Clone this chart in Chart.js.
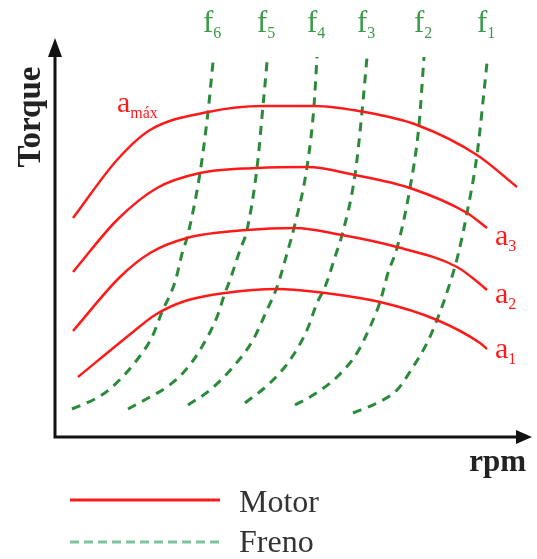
<!DOCTYPE html>
<html>
<head>
<meta charset="utf-8">
<script src="https://cdn.jsdelivr.net/npm/chart.js@4/dist/chart.umd.min.js"></script>
<style>
  html, body { margin: 0; padding: 0; background: #fff; }
  #wrap { width: 537px; height: 559px; }
</style>
</head>
<body>
<div id="wrap"><canvas id="c"></canvas></div>
<script>
// Courbes moteur (rpm, couple)
const motorLabels = ['amáx', 'a3', 'a2', 'a1'];
const aMaxX = [18, 62, 95, 153, 208, 259, 309, 362, 422, 462];
const aMaxY = [219, 277, 307, 325, 331, 331, 325, 312, 282, 250];
const a3X = [18, 62, 102, 145, 202, 252, 300, 355, 412, 432];
const a3Y = [165, 217, 249, 264, 269, 270, 262, 249, 224, 209];
const a2X = [18, 65, 95, 132, 192, 239, 287, 342, 402, 425, 432];
const a2Y = [106, 160, 184, 199, 207, 209, 202, 190, 170, 153, 147];
const a1X = [23, 78, 100, 130, 170, 222, 262, 325, 382, 425, 432];
const a1Y = [60, 105, 122, 136, 144, 148, 145, 135, 117, 94, 88];

// Courbes frein
const brakeLabels = ['f6', 'f5', 'f4', 'f3', 'f2', 'f1'];
const f6X = [17, 40, 55, 85, 97, 107, 120, 128, 132, 145, 153, 158];
const f6Y = [28, 38, 48, 81, 100, 125, 155, 187, 199, 264, 325, 375];
const f5X = [73, 95, 112, 128, 145, 162, 170, 175, 185, 192, 202, 208, 212];
const f5Y = [28, 40, 50, 64, 87, 120, 144, 157, 187, 207, 269, 331, 375];
const f4X = [133, 155, 178, 198, 212, 222, 233, 239, 252, 259, 262];
const f4Y = [32, 47, 70, 97, 127, 150, 187, 209, 270, 331, 380];
const f3X = [190, 215, 235, 252, 262, 270, 280, 287, 300, 307, 312];
const f3Y = [34, 54, 77, 107, 134, 150, 180, 202, 262, 325, 380];
const f2X = [240, 255, 282, 302, 315, 325, 333, 342, 355, 364, 369];
const f2Y = [32, 40, 60, 84, 110, 135, 164, 189, 249, 312, 380];
const f1X = [298, 322, 342, 358, 372, 382, 395, 403, 412, 422, 432];
const f1Y = [24, 34, 47, 70, 94, 117, 154, 182, 224, 282, 374];

const legendLabels = ['Motor', 'Freno'];

const RED = '#ff1a1a';
const GREEN = '#2a8a3a';

function pts(xs, ys) {
    return xs.map((x, i) => ({ x: x, y: ys[i] }));
}

const motorSeries = [[aMaxX, aMaxY], [a3X, a3Y], [a2X, a2Y], [a1X, a1Y]];
const brakeSeries = [[f6X, f6Y], [f5X, f5Y], [f4X, f4Y], [f3X, f3Y], [f2X, f2Y], [f1X, f1Y]];

const datasets = [];
motorSeries.forEach((s, i) => {
    datasets.push({
        label: motorLabels[i],
        kind: 'motor',
        data: pts(s[0], s[1]),
        borderColor: RED,
        borderWidth: 2.5,
        pointRadius: 0,
        cubicInterpolationMode: 'monotone'
    });
});
brakeSeries.forEach((s, i) => {
    datasets.push({
        label: brakeLabels[i],
        kind: 'brake',
        data: pts(s[0], s[1]),
        borderColor: GREEN,
        borderWidth: 3,
        borderDash: [9, 7],
        pointRadius: 0,
        cubicInterpolationMode: 'monotone'
    });
});

// texte avec indice
function subText(ctx, main, sub, x, y, size, subSize, color) {
    ctx.fillStyle = color;
    ctx.font = size + 'px "Liberation Serif", serif';
    ctx.fillText(main, x, y);
    const w = ctx.measureText(main).width;
    ctx.font = subSize + 'px "Liberation Serif", serif';
    ctx.fillText(sub, x + w, y + 6);
}

const decor = {
    id: 'decor',
    beforeDatasetsDraw(chart) {
        const { ctx, chartArea: a } = chart;
        ctx.save();
        ctx.strokeStyle = '#111';
        ctx.fillStyle = '#111';
        ctx.lineWidth = 3;
        // axes
        ctx.beginPath();
        ctx.moveTo(a.left, a.top + 16);
        ctx.lineTo(a.left, a.bottom);
        ctx.lineTo(a.right - 14, a.bottom);
        ctx.stroke();
        ctx.beginPath();
        ctx.moveTo(a.left, a.top);
        ctx.lineTo(a.left - 7, a.top + 19);
        ctx.lineTo(a.left + 7, a.top + 19);
        ctx.closePath();
        ctx.fill();
        ctx.beginPath();
        ctx.moveTo(a.right, a.bottom);
        ctx.lineTo(a.right - 16, a.bottom - 7);
        ctx.lineTo(a.right - 16, a.bottom + 7);
        ctx.closePath();
        ctx.fill();

        // titres d'axes
        ctx.fillStyle = '#222';
        ctx.font = 'bold 33px "Liberation Serif", serif';
        ctx.textAlign = 'center';
        ctx.textBaseline = 'alphabetic';
        ctx.save();
        ctx.translate(a.left - 15, a.top + 79);
        ctx.rotate(-Math.PI / 2);
        ctx.fillText('Torque', 0, 0);
        ctx.restore();
        ctx.font = 'bold 31px "Liberation Serif", serif';
        ctx.textAlign = 'right';
        ctx.fillText('rpm', a.right - 6, a.bottom + 34);
        ctx.restore();
    },
    afterDatasetsDraw(chart) {
        const { ctx, chartArea: a } = chart;
        const xs = chart.scales.x, ys = chart.scales.y;
        ctx.save();
        ctx.textAlign = 'left';
        ctx.textBaseline = 'alphabetic';
        // étiquettes des courbes
        chart.data.datasets.forEach((ds) => {
            const last = ds.data[ds.data.length - 1];
            const px = xs.getPixelForValue(last.x);
            const py = ys.getPixelForValue(last.y);
            const main = ds.label.charAt(0);
            const sub = ds.label.slice(1);
            if (ds.kind === 'brake') {
                subText(ctx, main, sub, px - 10, a.top - 6, 31, 16, '#3a9a48');
            } else if (ds.label === 'amáx') {
                const first = ds.data[1];
                subText(ctx, main, sub, xs.getPixelForValue(first.x),
                    ys.getPixelForValue(325), 30, 16, RED);
            } else {
                const dy = { a3: 17, a2: 13, a1: 9 }[ds.label];
                subText(ctx, main, sub, px + 8, py + dy, 30, 16, RED);
            }
        });

        // légende
        ctx.lineWidth = 3;
        ctx.strokeStyle = RED;
        ctx.beginPath();
        ctx.moveTo(70, 500);
        ctx.lineTo(220, 500);
        ctx.stroke();
        ctx.strokeStyle = '#7fc29e';
        ctx.setLineDash([9, 5]);
        ctx.beginPath();
        ctx.moveTo(70, 542);
        ctx.lineTo(222, 542);
        ctx.stroke();
        ctx.setLineDash([]);
        ctx.fillStyle = '#333';
        ctx.font = '32px "Liberation Serif", serif';
        ctx.fillText(legendLabels[0], 239, 512);
        ctx.fillText(legendLabels[1], 239, 552);
        ctx.restore();
    }
};

new Chart(document.getElementById('c'), {
    type: 'line',
    data: { datasets: datasets },
    options: {
        responsive: true,
        maintainAspectRatio: false,
        animation: false,
        events: [],
        layout: { padding: { left: 55, top: 38, right: 5, bottom: 122 } },
        plugins: {
            legend: { display: false },
            tooltip: { enabled: false }
        },
        scales: {
            x: { type: 'linear', min: 0, max: 477, display: false },
            y: { type: 'linear', min: 0, max: 399, display: false }
        }
    },
    plugins: [decor]
});
</script>
</body>
</html>
